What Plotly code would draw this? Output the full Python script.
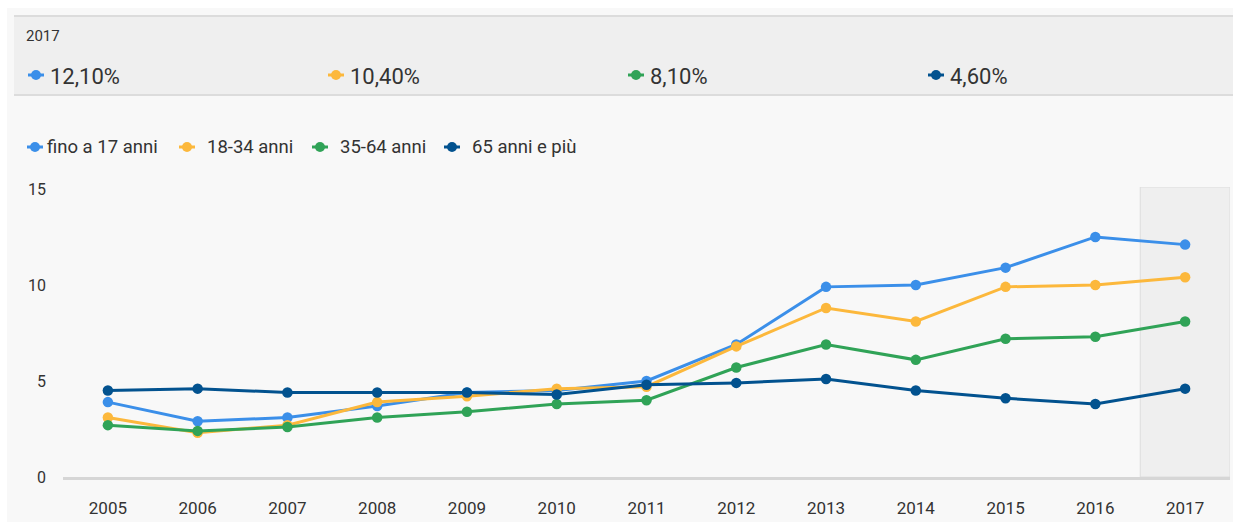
import plotly.graph_objects as go

years = ["2005", "2006", "2007", "2008", "2009", "2010", "2011",
         "2012", "2013", "2014", "2015", "2016", "2017"]
series_names = ["fino a 17 anni", "18-34 anni", "35-64 anni", "65 anni e più"]
v_fino17 = [3.9, 2.9, 3.1, 3.7, 4.4, 4.5, 5.0, 6.9, 9.9, 10.0, 10.9, 12.5, 12.1]
v_18_34 = [3.1, 2.3, 2.7, 3.9, 4.2, 4.6, 4.7, 6.8, 8.8, 8.1, 9.9, 10.0, 10.4]
v_35_64 = [2.7, 2.4, 2.6, 3.1, 3.4, 3.8, 4.0, 5.7, 6.9, 6.1, 7.2, 7.3, 8.1]
v_65plus = [4.5, 4.6, 4.4, 4.4, 4.4, 4.3, 4.8, 4.9, 5.1, 4.5, 4.1, 3.8, 4.6]
y_ticks = [0, 5, 10, 15]

colors = ["#3b8fe9", "#fcb83c", "#30a357", "#02528f"]
all_values = [v_fino17, v_18_34, v_35_64, v_65plus]

FONT = "Roboto, sans-serif"
TXT = "#333333"
BG = "#f8f8f8"

# figure geometry in screen pixels (body margin removed)
W, H = 1233, 522
ML, MR, MT, MB = 63, 3, 187, 45
PW = W - ML - MR
PH = H - MT - MB

def px(sx):
    return (sx - ML) / PW

def py(sy):
    return (H - MB - sy) / PH

fig = go.Figure()
for name, vals, col in zip(series_names, all_values, colors):
    fig.add_trace(go.Scatter(
        x=years, y=vals, name=name, mode="lines+markers",
        line=dict(color=col, width=3),
        marker=dict(color=col, size=10.5),
        showlegend=False,
    ))

shapes = []
annotations = []

# panel background (white strip top/left like the original page)
shapes.append(dict(type="rect", xref="paper", yref="paper",
                   x0=px(7), x1=px(1240), y0=py(530), y1=py(8),
                   fillcolor=BG, line=dict(width=0), layer="below"))

# highlight of the last year
n = len(years)
shapes.append(dict(type="rect", xref="x", yref="y", x0=n - 1.5, x1=n - 0.5,
                   y0=0, y1=15.1, fillcolor="#efefef",
                   line=dict(color="#dddddd", width=1), layer="below"))

# header band
shapes.append(dict(type="rect", xref="paper", yref="paper",
                   x0=px(14), x1=px(1245), y0=py(95), y1=py(16),
                   fillcolor="#efefef", line=dict(width=0), layer="below"))
for yy in (16, 95):
    shapes.append(dict(type="line", xref="paper", yref="paper",
                       x0=px(14), x1=px(1245), y0=py(yy), y1=py(yy),
                       line=dict(color="#dcdcdc", width=2)))

annotations.append(dict(text=years[-1], xref="paper", yref="paper",
                        x=px(24), y=py(36), xanchor="left", yanchor="middle",
                        showarrow=False, font=dict(family=FONT, size=15, color=TXT)))

def icon(cx, cy, col):
    shapes.append(dict(type="line", xref="paper", yref="paper",
                       xsizemode="pixel", ysizemode="pixel",
                       xanchor=px(cx), yanchor=py(cy),
                       x0=-8, x1=8, y0=0, y1=0,
                       line=dict(color=col, width=3)))
    shapes.append(dict(type="circle", xref="paper", yref="paper",
                       xsizemode="pixel", ysizemode="pixel",
                       xanchor=px(cx), yanchor=py(cy),
                       x0=-5, x1=5, y0=-5, y1=5,
                       fillcolor=col, line=dict(color=col, width=0)))

for i, (vals, col) in enumerate(zip(all_values, colors)):
    cx = 36 + 300 * i
    icon(cx, 75, col)
    label = f"{vals[-1]:.2f}".replace(".", ",") + "%"
    annotations.append(dict(text=label, xref="paper", yref="paper",
                            x=px(cx + 12), y=py(76), xanchor="left", yanchor="middle",
                            showarrow=False, font=dict(family=FONT, size=22, color=TXT)))

# legend
leg_icons = [35, 187, 320, 452]
leg_text = [45, 205, 338, 470]
for name, col, ix, tx in zip(series_names, colors, leg_icons, leg_text):
    icon(ix, 147, col)
    annotations.append(dict(text=name, xref="paper", yref="paper",
                            x=px(tx), y=py(147), xanchor="left", yanchor="middle",
                            showarrow=False, font=dict(family=FONT, size=18.5, color=TXT)))

fig.update_layout(
    width=W, height=H,
    margin=dict(l=ML, r=MR, t=MT, b=MB, pad=0),
    paper_bgcolor="#ffffff", plot_bgcolor=BG,
    shapes=shapes, annotations=annotations,
    showlegend=False,
    font=dict(family=FONT, color=TXT),
    xaxis=dict(type="category", range=[-0.5, n - 0.5], showgrid=False,
               zeroline=False, showline=True, linecolor="#d6d6d6", linewidth=3,
               ticks="", tickfont=dict(family=FONT, size=17, color=TXT),
               ticklabelstandoff=14, fixedrange=True),
    yaxis=dict(range=[0, 15.1], tickvals=y_ticks, showgrid=False, zeroline=False,
               showline=False, ticks="", tickfont=dict(family=FONT, size=16, color=TXT),
               ticklabelstandoff=16, fixedrange=True),
)

fig.write_html("out.html", config={"displayModeBar": False},
               post_script="document.body.style.margin='0';document.body.style.overflow='hidden';")
